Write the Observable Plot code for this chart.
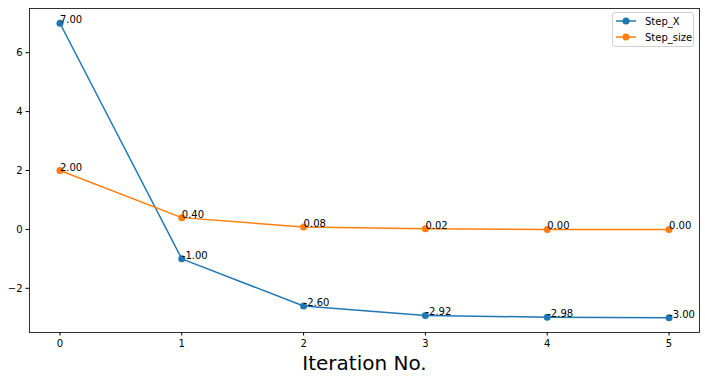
<!DOCTYPE html>
<html><head><meta charset="utf-8">
<script src="https://cdn.jsdelivr.net/npm/d3@7"></script>
<script src="https://cdn.jsdelivr.net/npm/@observablehq/plot@0.6"></script>
<style>
body{margin:0;background:#fff;font-family:"DejaVu Sans",sans-serif;}
#wrap{position:relative;width:705px;height:380px;}
#legend{position:absolute;left:612px;top:12px;width:80px;height:33px;border:1px solid #d0d0d0;border-radius:3px;background:rgba(255,255,255,0.8);font-size:10px;color:#000;}
.row{position:absolute;left:2px;height:14px;display:flex;align-items:center;}
.row span{margin-left:8px;}
</style>
</head><body>
<div id="wrap"><div id="legend"></div></div>
<script>
const iterations = [0, 1, 2, 3, 4, 5];
const stepX = [7.00, -1.00, -2.60, -2.92, -2.98, -3.00];
const stepSize = [2.00, 0.40, 0.08, 0.02, 0.00, 0.00];
const seriesNames = ["Step_X", "Step_size"];
const colors = ["#1f77b4", "#ff7f0e"];
const yTicks = [-2, 0, 2, 4, 6];

const data = [];
iterations.forEach((it, i) => {
  data.push({series: seriesNames[0], x: it, y: stepX[i]});
  data.push({series: seriesNames[1], x: it, y: stepSize[i]});
});
const fmt = v => v.toFixed(2);
const minus = v => String(v).replace("-", "\u2212");

const chart = Plot.plot({
  width: 705, height: 380,
  marginLeft: 29, marginRight: 6, marginTop: 8, marginBottom: 48,
  style: {fontFamily: "DejaVu Sans", fontSize: "10px", background: "white", color: "black"},
  x: {domain: [-0.25, 5.25]},
  y: {domain: [-3.5, 7.5]},
  color: {domain: seriesNames, range: colors},
  marks: [
    Plot.axisX({ticks: iterations, tickSize: 3.5, tickPadding: 3.5, label: null, tickFormat: d => String(d)}),
    Plot.axisY({ticks: yTicks, tickSize: 3.5, tickPadding: 3.5, label: null, tickFormat: minus}),
    Plot.line(data, {x: "x", y: "y", z: "series", stroke: "series", strokeWidth: 1.5}),
    Plot.dot(data, {x: "x", y: "y", fill: "series", r: 3.5}),
    Plot.text(data, {x: "x", y: "y", text: d => fmt(d.y), textAnchor: "start", lineAnchor: "bottom", dy: 0, fill: "black", fontSize: 10}),
    Plot.frame({stroke: "black", strokeWidth: 0.8}),
    Plot.text(["Iteration No."], {frameAnchor: "bottom", dy: 31, lineAnchor: "middle", fontSize: 20, fill: "black"})
  ]
});
document.getElementById("wrap").prepend(chart);

const legend = document.getElementById("legend");
seriesNames.forEach((name, i) => {
  const row = document.createElement("div");
  row.className = "row";
  row.style.top = (1 + i * 16) + "px";
  row.innerHTML = `<svg width="22" height="10"><line x1="1" x2="21" y1="5" y2="5" stroke="${colors[i]}" stroke-width="1.5"/><circle cx="11" cy="5" r="3.5" fill="${colors[i]}"/></svg><span>${name}</span>`;
  legend.appendChild(row);
});
</script>
</body></html>
